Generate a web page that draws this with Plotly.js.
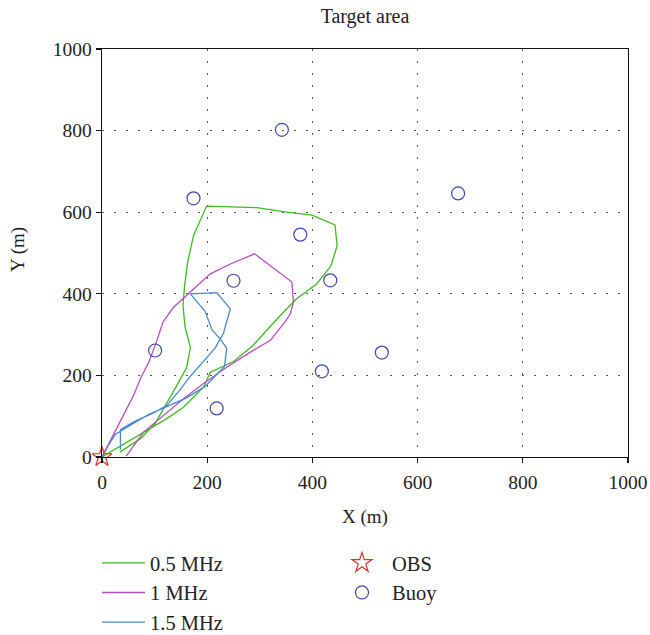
<!DOCTYPE html>
<html>
<head>
<meta charset="utf-8">
<script src="https://cdn.plot.ly/plotly-3.0.1.min.js"></script>
<style>html,body{margin:0;padding:0;background:#fff;}#chart{width:650px;height:635px;}</style>
</head>
<body>
<div id="chart"></div>
<script>
// 0.5 MHz contour
const x05 = [34, 73, 101, 123, 146, 161, 168, 158, 154, 157, 163, 174, 187, 199, 294, 351, 399, 443, 447, 435, 408, 370, 342, 313, 286, 250, 206, 193, 155, 123, 85, 41, 0];
const y05 = [12, 45, 82, 131, 184, 220, 269, 318, 371, 420, 478, 543, 580, 615, 611, 600, 593, 569, 518, 468, 424, 388, 351, 310, 272, 234, 208, 171, 122, 94, 65, 33, 0];
// 1 MHz contour
const x1 = [0, 28, 60, 73, 89, 101, 116, 136, 168, 193, 206, 244, 290, 361, 364, 358, 348, 320, 282, 237, 193, 155, 117, 79, 46];
const y1 = [0, 69, 151, 192, 233, 273, 331, 367, 404, 433, 449, 473, 498, 429, 380, 351, 331, 286, 257, 220, 180, 143, 102, 61, 2];
// 1.5 MHz contour
const x15 = [35, 35, 63, 98, 123, 146, 168, 196, 215, 231, 244, 218, 168, 196, 209, 225, 237, 233, 196, 161, 123, 88, 50, 25, 13, 0];
const y15 = [18, 67, 88, 108, 126, 161, 198, 239, 267, 304, 363, 403, 400, 357, 312, 289, 267, 222, 173, 145, 124, 104, 75, 55, 31, 0];
// OBS position
const obsX = [0];
const obsY = [0];
// Buoy positions
const buoyX = [174, 342, 377, 250, 434, 101, 418, 218, 532, 677];
const buoyY = [634, 802, 545, 432, 433, 261, 210, 119, 256, 646];
// Axis ticks
const tickVals = [0, 200, 400, 600, 800, 1000];
const tickText = ['0', '200', '400', '600', '800', '1000'];

const serif = 'Liberation Serif, Times New Roman, serif';
const txt = '#222';

const traces = [
  {x: x05, y: y05, type: 'scatter', mode: 'lines', name: '0.5 MHz',
   line: {color: '#3dbb1f', width: 1.3}, legend: 'legend'},
  {x: x1, y: y1, type: 'scatter', mode: 'lines', name: '1 MHz',
   line: {color: '#b84cc2', width: 1.3}, legend: 'legend'},
  {x: x15, y: y15, type: 'scatter', mode: 'lines', name: '1.5 MHz',
   line: {color: '#4a88cf', width: 1.3}, legend: 'legend'},
  {x: obsX, y: obsY, type: 'scatter', mode: 'markers', name: 'OBS',
   marker: {symbol: 'star-open', size: 15, color: '#e0302a', line: {width: 1.2, color: '#e0302a'}},
   legend: 'legend2', cliponaxis: false},
  {x: buoyX, y: buoyY, type: 'scatter', mode: 'markers', name: 'Buoy',
   marker: {symbol: 'circle-open', size: 13, color: '#3d47ad', line: {width: 1.2, color: '#3d47ad'}},
   legend: 'legend2'}
];

const axisBase = {
  range: [0, 1000], tickvals: tickVals, ticktext: tickText,
  showline: true, linecolor: '#111', linewidth: 1.4, mirror: true,
  ticks: 'outside', ticklen: 5, tickwidth: 1.2, tickcolor: '#111',
  zeroline: false, showgrid: true, gridcolor: '#555', gridwidth: 1,
  griddash: '2px,10px', fixedrange: true, automargin: false,
  tickfont: {family: serif, size: 19.5, color: txt}
};

const layout = {
  width: 650, height: 635,
  margin: {l: 102, r: 22, t: 49, b: 177.5, autoexpand: false},
  paper_bgcolor: '#fff', plot_bgcolor: '#fff',
  title: {text: 'Target area', xref: 'paper', x: 0.5, xanchor: 'center', y: 1 - 16/635, yanchor: 'middle',
          font: {family: serif, size: 20, color: txt}},
  xaxis: Object.assign({}, axisBase, {tickangle: 0, ticklabelstandoff: 2}),
  yaxis: Object.assign({}, axisBase),
  annotations: [
    {text: 'X (m)', xref: 'paper', yref: 'paper', x: 0.5, y: (457.5 - 518) / 408.5,
     xanchor: 'center', yanchor: 'middle', showarrow: false,
     font: {family: serif, size: 19, color: txt}},
    {text: 'Y (m)', xref: 'paper', yref: 'paper', x: (17 - 101.7) / 526.3, y: (457.5 - 250) / 408.5,
     xanchor: 'center', yanchor: 'middle', showarrow: false, textangle: -90,
     font: {family: serif, size: 19, color: txt}}
  ],
  showlegend: true,
  legend: {xref: 'container', yref: 'container', x: 97/650, y: 1 - 543/635, xanchor: 'left', yanchor: 'top',
           font: {family: serif, size: 20.5, color: txt}, traceorder: 'normal',
           bgcolor: 'rgba(0,0,0,0)', itemwidth: 43},
  legend2: {xref: 'container', yref: 'container', x: 332/650, y: 1 - 543/635, xanchor: 'left', yanchor: 'top',
            font: {family: serif, size: 20.5, color: txt}, traceorder: 'normal',
            bgcolor: 'rgba(0,0,0,0)', itemwidth: 50},
  hovermode: false
};

Plotly.newPlot('chart', traces, layout, {displayModeBar: false, staticPlot: true});
</script>
</body>
</html>
